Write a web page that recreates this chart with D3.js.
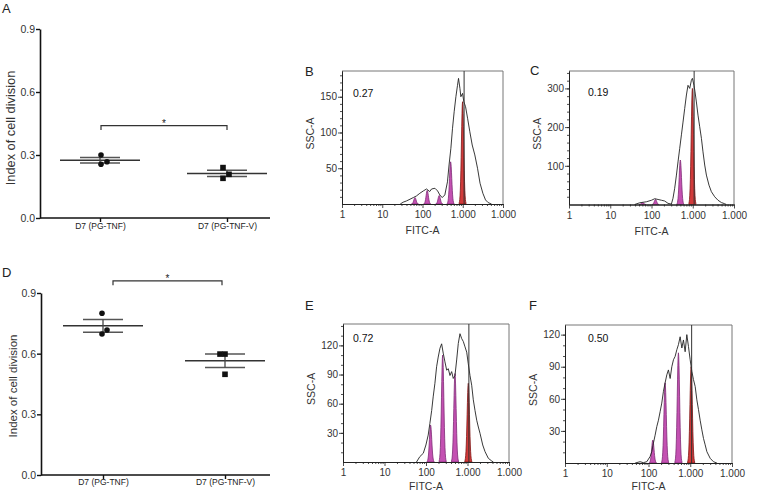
<!DOCTYPE html>
<html><head><meta charset="utf-8">
<script src="https://cdn.jsdelivr.net/npm/d3@7"></script>
<style>
body{margin:0;background:#fff}
svg{display:block}
text{font-family:"Liberation Sans",Arial,sans-serif}
</style>
</head><body>
<svg id="chart" width="771" height="492"></svg>
<script>
// ---------------- DATA ----------------
const categories = ["D7 (PG-TNF)", "D7 (PG-TNF-V)"];
const indexTicks = [0.0, 0.3, 0.6, 0.9];
// Panel A (index of cell division, 3 replicates each)
const panelA_PGTNF  = [0.30, 0.256, 0.268];
const panelA_PGTNFV = [0.24, 0.189, 0.208];
// Panel D
const panelD_PGTNF  = [0.80, 0.697, 0.717];
const panelD_PGTNFV = [0.598, 0.598, 0.498];
const sigLabel = "*";
const sigLevel = [0.44, 0.96];   // bracket height (A, D)

// Flow histograms: [FITC-A, count]
const histB = [[28,0],[33,2.5],[40,4.3],[49,6.7],[59,9],[71,11.3],[86,15],[105,18.3],[126,21],[151,17.4],[168,21],[204,22],[237,18.3],[269,12.7],[309,9],[359,12.7],[417,31],[457,54.6],[507,78],[557,106],[612,129],[676,150],[741,166],[785,175.7],[851,161.7],[897,150],[989,154.7],[1064,143],[1175,136],[1318,120],[1500,101],[1718,82.5],[1995,68.6],[2328,50],[2692,29],[3162,15],[3681,5.7],[4266,2],[5188,0]];
const histC = [[39,0],[52,4.5],[75,7],[100,11],[120,15],[144,13],[174,11],[209,9],[251,3],[303,1],[332,16],[365,42],[402,76],[439,110],[483,145],[531,180],[581,213],[638,248],[702,283],[767,308],[844,300],[927,321],[981,326],[1072,308],[1135,291],[1225,265],[1340,231],[1473,201],[1622,171],[1771,136],[1950,102],[2143,76],[2477,50],[2831,33],[3404,20],[4093,11],[4955,5],[5957,2],[6500,0]];
const histE = [[59,0],[71,5.5],[86,9],[99.5,17.5],[113,27.7],[124,39.7],[137,53],[149,67],[164,81],[180,98],[197,108],[217,117],[238,121.6],[260,112],[286,103],[315,94.5],[344,96],[378,89],[415,93],[454,86],[499,89],[548,105],[600,122],[659,132],[724,127],[792,124],[871,118.5],[957,113],[1045,101],[1148,89],[1262,79],[1380,64],[1517,53],[1667,43],[1824,36],[2004,29.5],[2328,17.5],[2649,10.6],[3177,3.8],[3846,1],[4200,0]];
const histF = [[48,0],[63,1.2],[75,0.3],[91,1.2],[109,6],[120,10.6],[131,18.5],[144,26],[158,34],[173,40],[190,48],[208,56],[228,67],[250,75],[275,82.5],[300,87],[330,79],[362,90],[396,96.5],[434,99.6],[478,106],[521,110.6],[573,118],[629,107.5],[687,115],[755,104],[828,120],[906,109],[995,96.5],[1092,85.6],[1194,78],[1312,71.5],[1439,59],[1574,50],[1726,40],[1897,31],[2075,23],[2276,17],[2500,10.6],[3000,4.4],[3597,1.2],[4345,0]];

// Generation peaks [centre FITC, height]; parent peak separately
const peaksB = [[65,9],[131,19],[260,12],[500,59]];   const parentB = [990,143];
const peaksC = [[61,5],[125,13],[500,115]];            const parentC = [980,300];
const peaksE = [[129,38],[252,110],[499,91]];          const parentE = [1045,81];
const peaksF = [[127,21.5],[250,75],[521,103]];        const parentF = [1050,90];
const divisionIndex = ["0.27", "0.19", "0.72", "0.50"];
const gateFITC = 1080;
const fitcTicks = [1, 10, 100, 1000, 10000];
const fitcTickLabels = ["1", "10", "100", "1.000", "1.000"];
const sscTicksB = [50, 100, 150], sscTicksC = [100, 200, 300], sscTicksEF = [30, 60, 90, 120];

// ---------------- DRAW ----------------
const svg = d3.select("#chart");
svg.append("rect").attr("width", 771).attr("height", 492).attr("fill", "#fff");

function letter(t, x, y) {
  svg.append("text").attr("x", x).attr("y", y).attr("font-size", 13).attr("fill", "#222").text(t);
}

function dotPanel(cfg) {
  const g = svg.append("g");
  const y = d3.scaleLinear().domain([0, 0.9]).range([cfg.bottom, cfg.top]);
  const x = d3.scalePoint().domain(categories).range([cfg.c0, cfg.c1]);

  const yAxis = g.append("g").attr("transform", `translate(${cfg.left},0)`)
    .call(d3.axisLeft(y).tickValues(indexTicks).tickFormat(d3.format(".1f")).tickSize(4).tickSizeOuter(0));
  yAxis.select(".domain").attr("stroke", "#111").attr("stroke-width", 1.6);
  yAxis.selectAll(".tick line").attr("stroke", "#111").attr("stroke-width", 1.4);
  yAxis.selectAll(".tick text").attr("font-size", 10.5).attr("fill", "#333")
    .attr("font-family", "Liberation Sans, Arial, sans-serif").attr("x", -5);

  // x axis
  const xAxis = g.append("g").attr("transform", `translate(0,${cfg.bottom})`)
    .call(d3.axisBottom(x).tickSize(4).tickSizeOuter(0));
  xAxis.select(".domain").attr("d", `M${cfg.left},0H${cfg.right}`).attr("stroke", "#111").attr("stroke-width", 1.6);
  xAxis.selectAll(".tick line").attr("stroke", "#111").attr("stroke-width", 1.4);
  xAxis.selectAll(".tick text").attr("font-size", 8.5).attr("fill", "#222")
    .attr("font-family", "Liberation Sans, Arial, sans-serif").attr("y", cfg.labelDy).attr("dy", 0);

  // y title
  g.append("text").attr("transform", `translate(${cfg.titleX},${cfg.titleY}) rotate(-90)`)
    .attr("text-anchor", "middle").attr("font-size", cfg.titleSize).attr("fill", "#333")
    .text("Index of cell division");

  cfg.groups.forEach((vals, i) => {
    const cx = x(categories[i]);
    const m = d3.mean(vals), sem = d3.deviation(vals) / Math.sqrt(vals.length);
    g.append("line").attr("x1", cx - 40).attr("x2", cx + 40).attr("y1", y(m)).attr("y2", y(m))
      .attr("stroke", "#333").attr("stroke-width", 1.5);
    [m - sem, m + sem].forEach(v => g.append("line").attr("x1", cx - 20).attr("x2", cx + 20)
      .attr("y1", y(v)).attr("y2", y(v)).attr("stroke", "#555").attr("stroke-width", 1.5));
    g.append("line").attr("x1", cx).attr("x2", cx).attr("y1", y(m - sem)).attr("y2", y(m + sem))
      .attr("stroke", "#444").attr("stroke-width", 1.3);
    vals.forEach((v, j) => {
      const px = cx + cfg.jitter[i][j];
      if (i === 0) g.append("circle").attr("cx", px).attr("cy", y(v)).attr("r", 2.8).attr("fill", "#111");
      else g.append("rect").attr("x", px - 2.8).attr("y", y(v) - 2.8).attr("width", 5.6).attr("height", 5.6).attr("fill", "#111");
    });
  });

  // significance bracket
  const by = y(cfg.sig);
  const bx0 = x(categories[0]) + cfg.bracketInset[0], bx1 = x(categories[1]) + cfg.bracketInset[1];
  g.append("path").attr("d", `M${bx0},${by + 4.5}V${by}H${bx1}V${by + 4.5}`)
    .attr("fill", "none").attr("stroke", "#333").attr("stroke-width", 1.2);
  g.append("text").attr("x", (bx0 + bx1) / 2).attr("y", by + 1.5).attr("text-anchor", "middle")
    .attr("font-size", 10).attr("fill", "#222").text(sigLabel);
}

dotPanel({left: 40, right: 270, top: 29, bottom: 218, c0: 100, c1: 227, labelDy: 11,
  titleX: 15, titleY: 128, titleSize: 12.8,
  groups: [panelA_PGTNF, panelA_PGTNFV], jitter: [[1, 1, 7], [-4, -4, 2]],
  sig: sigLevel[0], bracketInset: [1, 0]});
dotPanel({left: 41, right: 270, top: 293, bottom: 475, c0: 103, c1: 225, labelDy: 10,
  titleX: 17, titleY: 386, titleSize: 11.5,
  groups: [panelD_PGTNF, panelD_PGTNFV], jitter: [[-1, -1, 4], [-5, 0, 0]],
  sig: sigLevel[1], bracketInset: [10, -3]});

letter("A", 2, 13);
letter("D", 2, 277);

function histPanel(cfg) {
  const g = svg.append("g");
  const x = d3.scaleLog().domain([1, 1e4]).range([cfg.left, cfg.right]);
  const y = d3.scaleLinear().domain([0, cfg.ymax]).range([cfg.bottom, cfg.top]);

  // frame (top/right)
  g.append("path").attr("d", `M${cfg.left},${cfg.top}H${cfg.right}V${cfg.bottom}`)
    .attr("fill", "none").attr("stroke", "#777").attr("stroke-width", 1);

  const sigma = 0.028;
  const peakArea = d3.area().x(d => x(d[0])).y0(cfg.bottom).y1(d => y(d[1]));
  function peak(p, fill, stroke) {
    const lc = Math.log10(p[0]);
    const pts = d3.range(-3, 3.01, 0.25).map(k => [Math.pow(10, lc + k * sigma), p[1] * Math.exp(-0.5 * k * k)]);
    g.append("path").attr("d", peakArea(pts)).attr("fill", fill).attr("stroke", stroke).attr("stroke-width", 0.8);
  }
  cfg.peaks.forEach(p => peak(p, "#c451b2", "#7e2b75"));
  peak(cfg.parent, "#d23a3a", "#7d1515");

  g.append("path").datum(cfg.hist)
    .attr("d", d3.line().x(d => x(d[0])).y(d => y(d[1])))
    .attr("fill", "none").attr("stroke", "#222").attr("stroke-width", 0.9);

  // gate line
  g.append("line").attr("x1", x(gateFITC)).attr("x2", x(gateFITC)).attr("y1", cfg.top).attr("y2", cfg.bottom)
    .attr("stroke", "#333").attr("stroke-width", 1);

  // axes
  const minorX = [];
  [1, 10, 100, 1000].forEach(d => { for (let k = 2; k <= 9; k++) minorX.push(d * k); });
  const xa = g.append("g").attr("transform", `translate(0,${cfg.bottom})`)
    .call(d3.axisBottom(x).tickValues(fitcTicks).tickFormat((d, i) => fitcTickLabels[i]).tickSize(4).tickSizeOuter(0));
  const xm = g.append("g").attr("transform", `translate(0,${cfg.bottom})`)
    .call(d3.axisBottom(x).tickValues(minorX).tickFormat("").tickSize(2).tickSizeOuter(0));
  const minorY = d3.range(cfg.minorStep, cfg.ymax, cfg.minorStep);
  const ya = g.append("g").attr("transform", `translate(${cfg.left},0)`)
    .call(d3.axisLeft(y).tickValues(cfg.yticks).tickSize(4).tickSizeOuter(0));
  const ym = g.append("g").attr("transform", `translate(${cfg.left},0)`)
    .call(d3.axisLeft(y).tickValues(minorY).tickFormat("").tickSize(2).tickSizeOuter(0));
  [xa, xm, ya, ym].forEach(a => {
    a.select(".domain").attr("stroke", "#222").attr("stroke-width", 1);
    a.selectAll(".tick line").attr("stroke", "#222").attr("stroke-width", 0.8);
  });
  xa.selectAll(".tick text").attr("font-size", 10).attr("fill", "#333").attr("y", 7)
    .attr("font-family", "Liberation Sans, Arial, sans-serif");
  ya.selectAll(".tick text").attr("font-size", 10).attr("fill", "#333").attr("x", -5)
    .attr("font-family", "Liberation Sans, Arial, sans-serif");

  g.append("text").attr("x", (cfg.left + cfg.right) / 2 - 0).attr("y", Math.min(cfg.bottom + 30, 489.5))
    .attr("text-anchor", "middle").attr("font-size", 10.5).attr("fill", "#333").text("FITC-A");
  g.append("text").attr("transform", `translate(${cfg.left - 28},${cfg.top + (cfg.bottom - cfg.top) * 0.47}) rotate(-90)`)
    .attr("text-anchor", "middle").attr("font-size", 10.5).attr("fill", "#333").text("SSC-A");
  g.append("text").attr("x", cfg.left + cfg.idxDx).attr("y", cfg.top + cfg.idxDy)
    .attr("font-size", 10.5).attr("fill", "#111").text(cfg.index);
}

histPanel({left: 342, right: 503, top: 71, bottom: 204, ymax: 186, yticks: sscTicksB, minorStep: 10,
  hist: histB, peaks: peaksB, parent: parentB, index: divisionIndex[0], idxDx: 11, idxDy: 26});
histPanel({left: 569, right: 734, top: 71, bottom: 204.5, ymax: 345, yticks: sscTicksC, minorStep: 20,
  hist: histC, peaks: peaksC, parent: parentC, index: divisionIndex[1], idxDx: 19, idxDy: 25});
histPanel({left: 343, right: 509, top: 324, bottom: 462, ymax: 142, yticks: sscTicksEF, minorStep: 10,
  hist: histE, peaks: peaksE, parent: parentE, index: divisionIndex[2], idxDx: 10, idxDy: 18});
histPanel({left: 565, right: 732, top: 325, bottom: 463, ymax: 129, yticks: sscTicksEF, minorStep: 10,
  hist: histF, peaks: peaksF, parent: parentF, index: divisionIndex[3], idxDx: 23, idxDy: 17});

letter("B", 305, 76);
letter("C", 530, 75);
letter("E", 305, 310);
letter("F", 529, 310);
</script>
</body></html>
